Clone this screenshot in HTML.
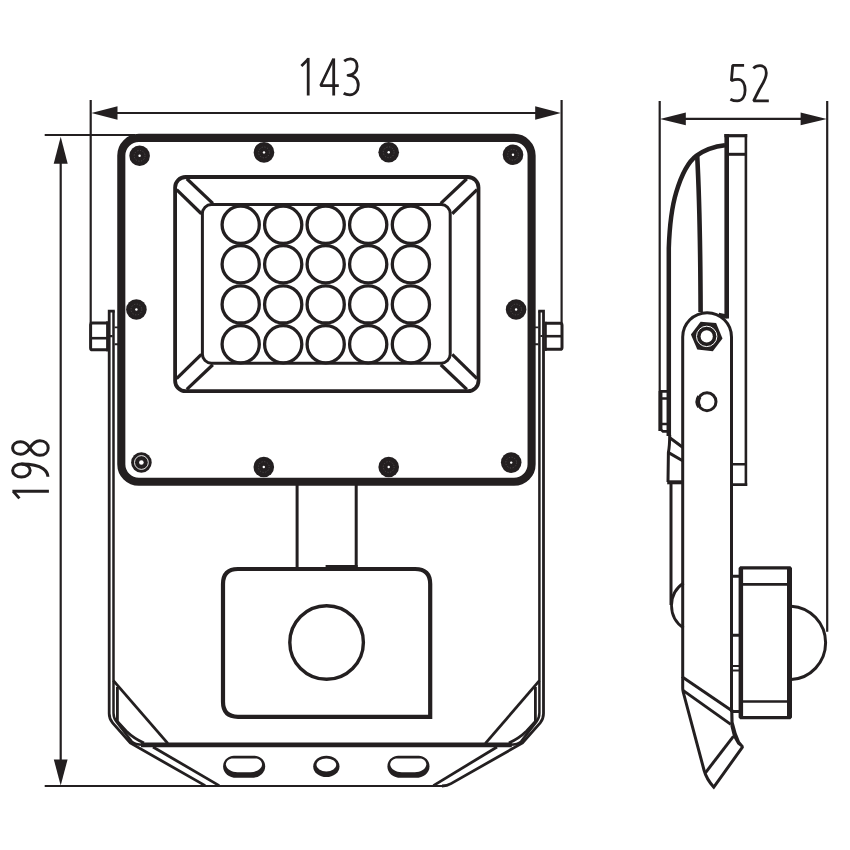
<!DOCTYPE html>
<html>
<head>
<meta charset="utf-8">
<title>Floodlight dimensions</title>
<style>
html,body{margin:0;padding:0;background:#fff;}
body{width:850px;height:850px;overflow:hidden;font-family:"Liberation Sans",sans-serif;}
svg{display:block;}
</style>
</head>
<body>
<svg width="850" height="850" viewBox="0 0 850 850">
<rect width="850" height="850" fill="#ffffff"/>
<g fill="none" stroke="#231f20" stroke-linecap="butt" stroke-linejoin="miter">

<!-- ===== DIMENSION LINES ===== -->
<g stroke-width="2.2">
  <!-- 143 -->
  <path d="M90.7 100V323"/>
  <path d="M561.6 100V323"/>
  <path d="M110 113H542"/>
  <!-- 198 -->
  <path d="M44.7 135H135"/>
  <path d="M44.7 786H443"/>
  <path d="M60.7 155V768"/>
  <!-- 52 -->
  <path d="M659.7 101V431"/>
  <path d="M827.2 101V631.7"/>
  <path d="M680 118.9H806"/>
</g>
<g fill="#231f20" stroke="none">
  <path d="M91.4 113L117.5 106.3V119.7Z"/>
  <path d="M560.9 113L535.2 106.3V119.7Z"/>
  <path d="M60.7 136.8L53.7 163.8H67.7Z"/>
  <path d="M60.7 785.4L53.8 759.4H67.6Z"/>
  <path d="M660 118.9L685.8 112.5V125.3Z"/>
  <path d="M826.8 118.9L800.6 112.5V125.3Z"/>
</g>

<!-- ===== DIGITS ===== -->
<g id="digits" stroke-width="2.8" stroke-miterlimit="3">
  <!-- 143 -->
  <path d="M308.2 57.9V95.5"/>
  <path d="M301.4 66L307.9 59.5" stroke-width="2.7"/>
  <path d="M333.7 95.5V58.4"/>
  <path d="M333.4 59L320.6 85.6H338.8" stroke-width="2.6" stroke-linejoin="bevel"/>
  <path d="M344.2 61.2C346 59.7 348.3 58.9 350.5 58.9C354.8 58.9 357.1 62.2 357.1 66.4C357.1 71.4 353.4 75.2 348 75.3C354.4 75.4 358.3 79.2 358.3 85C358.3 91 354.8 94.8 349.9 94.8C347.5 94.8 345.3 94.2 343.7 93.2" stroke-linejoin="round"/>
  <!-- 52 -->
  <path d="M744.1 65.3H732.7L731.4 80.6C733.4 79.8 735.7 79.3 738 79.3C742.6 79.3 745.1 84 745.1 90.3C745.1 96.8 742 100.9 737.3 100.9C734.6 100.9 732.2 100.2 730.4 99.2" stroke-linejoin="bevel"/>
  <path d="M753.4 68.4C755 66.6 757.4 65.6 760 65.6C764.1 65.6 766.3 68.8 766.3 73C766.3 78 763.6 82.8 759.6 89L753.6 100.9H768.8" stroke-linejoin="bevel"/>
  <!-- 198 (rotated) -->
  <g stroke-width="3">
  <path d="M48.9 491.3H12.4"/>
  <path d="M13.4 491.6L19.4 498.4" stroke-width="2.9"/>
  <ellipse cx="21.4" cy="470.5" rx="8.8" ry="6.5"/>
  <path d="M21.4 464C30 464 38 465 43.2 468.8C46.4 471.2 47.8 474 47.9 476.8"/>
  <path d="M29.8 448C27.6 444.4 24.8 441.8 20.6 441.8C15.6 441.8 12.6 444.6 12.6 448C12.6 451.4 15.6 454.2 20.6 454.2C24.8 454.2 27.6 451.6 29.8 448C32.2 444 35.2 440.7 39.8 440.7C45 440.7 48.2 443.9 48.2 448C48.2 452.1 45 455.3 39.8 455.3C35.2 455.3 32.2 452 29.8 448Z" stroke-linejoin="round"/>
  </g>
</g>

<!-- ===== FRONT VIEW ===== -->
<g id="front">
  <!-- main frame -->
  <rect x="121.3" y="137.9" width="410.3" height="343.9" rx="17.6" ry="17.6" stroke-width="8.1"/>

  <!-- LED window -->
  <rect x="175.1" y="177" width="303.4" height="214.2" rx="10.5" ry="10.5" stroke-width="3.8"/>
  <rect x="202.4" y="204.6" width="247.8" height="158.6" rx="9" ry="9" stroke-width="3"/>
  <g stroke-width="3.3">
    <path d="M186.8 178.8L212.8 203.4"/>
    <path d="M176.6 189.6L201.4 213.8"/>
    <path d="M466.8 178.8L440.8 203.4"/>
    <path d="M477 189.6L452.2 213.8"/>
    <path d="M186.8 389.4L212.8 364.8"/>
    <path d="M176.6 378.6L201.4 354.4"/>
    <path d="M466.8 389.4L440.8 364.8"/>
    <path d="M477 378.6L452.2 354.4"/>
  </g>
  <!-- LEDs -->
  <g stroke-width="3.3" id="leds">
    <circle cx="240.7" cy="224.7" r="18.6"/><circle cx="283.2" cy="224.7" r="18.6"/><circle cx="325.7" cy="224.7" r="18.6"/><circle cx="368.2" cy="224.7" r="18.6"/><circle cx="410.9" cy="224.7" r="18.6"/>
    <circle cx="240.7" cy="264.3" r="18.6"/><circle cx="283.2" cy="264.3" r="18.6"/><circle cx="325.7" cy="264.3" r="18.6"/><circle cx="368.2" cy="264.3" r="18.6"/><circle cx="410.9" cy="264.3" r="18.6"/>
    <circle cx="240.7" cy="304.4" r="18.6"/><circle cx="283.2" cy="304.4" r="18.6"/><circle cx="325.7" cy="304.4" r="18.6"/><circle cx="368.2" cy="304.4" r="18.6"/><circle cx="410.9" cy="304.4" r="18.6"/>
    <circle cx="240.7" cy="344.2" r="18.6"/><circle cx="283.2" cy="344.2" r="18.6"/><circle cx="325.7" cy="344.2" r="18.6"/><circle cx="368.2" cy="344.2" r="18.6"/><circle cx="410.9" cy="344.2" r="18.6"/>
  </g>

  <!-- screws -->
  <g fill="#231f20" stroke="none">
    <circle cx="139.6" cy="155.8" r="10.3"/><circle cx="264" cy="152.4" r="10.3"/><circle cx="388.7" cy="152.3" r="10.3"/><circle cx="513" cy="154.8" r="10.3"/>
    <circle cx="136.4" cy="309.5" r="10.3"/><circle cx="516.1" cy="309.5" r="10.3"/>
    <circle cx="141.4" cy="462.5" r="10.3"/><circle cx="263.8" cy="467" r="10.3"/><circle cx="388.7" cy="467" r="10.3"/><circle cx="511.2" cy="462.6" r="10.3"/>
  </g>
  <g fill="#ffffff" stroke="none">
    <circle cx="139.6" cy="155.8" r="1.2"/><circle cx="264" cy="152.4" r="1.2"/><circle cx="388.7" cy="152.3" r="1.2"/><circle cx="513" cy="154.8" r="1.2"/>
    <circle cx="136.4" cy="309.5" r="1.2"/><circle cx="516.1" cy="309.5" r="1.2"/>
    <circle cx="141.4" cy="462.5" r="2.3"/><circle cx="263.8" cy="467" r="1.2"/><circle cx="388.7" cy="467" r="1.2"/><circle cx="511.2" cy="462.6" r="1.2"/>
  </g>
  <circle cx="141.4" cy="462.5" r="6.9" stroke="#ffffff" stroke-width="0.9"/>
  <g stroke="#5a5657" stroke-width="0.7" stroke-dasharray="1.2 1.6" fill="none">
    <circle cx="139.6" cy="155.8" r="5.4"/><circle cx="264" cy="152.4" r="5.4"/><circle cx="388.7" cy="152.3" r="5.4"/><circle cx="513" cy="154.8" r="5.4"/>
    <circle cx="136.4" cy="309.5" r="5.4"/><circle cx="516.1" cy="309.5" r="5.4"/>
    <circle cx="263.8" cy="467" r="5.4"/><circle cx="388.7" cy="467" r="5.4"/><circle cx="511.2" cy="462.6" r="5.4"/>
  </g>

  <!-- side bolts -->
  <g stroke-width="3">
    <path d="M108 322.9H92.4Q90.6 322.9 90.6 324.8V347.9Q90.6 349.8 92.4 349.8H108"/>
    <path d="M90.6 338.2H108" stroke-width="2.6"/>
    <path d="M107.3 321.4V351.3" stroke-width="2.4"/>
    <path d="M545 323.3H560.2Q562 323.3 562 325.2V347.4Q562 349.3 560.2 349.3H545"/>
    <path d="M545 336.2H562" stroke-width="2.6"/>
    <path d="M545.6 321.8V350.8" stroke-width="2.4"/>
    <path d="M114.6 327.4H118M114.6 344.3H118" stroke-width="1.9"/>
    <path d="M535 327.4H538.4M535 344.3H538.4" stroke-width="1.9"/>
    <path d="M110 336.2H112.6M540.4 336H542.6" stroke-width="2.2"/>
  </g>

  <!-- bracket -->
  <g stroke-width="2.8">
    <!-- left -->
    <path d="M114.8 311.2H109.2V713.5Q109.2 718.8 112.6 722.8L130.3 743L205.2 785.6" stroke-width="2.8"/>
    <path d="M113.5 311.2V713Q113.5 718 116.3 721.6L131.8 741.6Q134.5 744.4 143 744.8" stroke-width="2.5"/>
    <path d="M113.4 680.6L167.8 743.4"/>
    <path d="M117.4 687V721.5L126.1 731Q134 738.6 144 743"/>
    <path d="M153 747L219.2 785.6"/>
    <!-- right -->
    <path d="M538.2 311.2H543.5V713.5Q543.5 718.8 540.2 722.8L522.5 743L451 783.6Q447.2 785.9 442 786" stroke-width="2.8"/>
    <path d="M539.4 311.2V713Q539.4 718 536.5 721.6L521 741.6Q518.3 744.4 509.8 744.8" stroke-width="2.5"/>
    <path d="M539.4 680.6L485.4 743.4"/>
    <path d="M535.4 687V721.5L526.7 731Q518.8 738.6 508.8 743"/>
    <path d="M497 747L433.4 785.6"/>
  </g>
  <path d="M141 744.8H511.8" stroke-width="4.8"/>

  <!-- neck -->
  <path d="M297.1 485V568M356.2 485V568" stroke-width="3"/>
  <!-- sensor -->
  <path d="M238 569H415Q430.2 569 430.2 584V716.8H238Q223 716.8 223 701.8V584Q223 569 238 569Z" stroke-width="4.2"/>
  <path d="M325.6 566.2H357.6" stroke-width="2.6"/>
  <circle cx="326.6" cy="642.5" r="36.8" stroke-width="3.4"/>

  <!-- slots -->
  <g stroke="none">
    <g id="slotL">
      <path fill="#231f20" d="M233.8 755.7H254.5C260.5 755.7 265.2 760.6 265.2 766.4C265.2 773 259 777.8 251.5 777.8H236.5C229 777.8 223.1 773 223.1 766.4C223.1 760.6 227.8 755.7 233.8 755.7Z"/>
      <path fill="#ffffff" d="M233 758.4H255.5C259.5 758.4 262 761.5 262 764.5C262 769 256 772.2 250.5 772.2H237.4C232 772.2 225.9 769 225.9 764.5C225.9 761.5 228.5 758.4 233 758.4Z"/>
    </g>
    <g transform="translate(164.3 0)">
      <path fill="#231f20" d="M233.8 755.7H254.5C260.5 755.7 265.2 760.6 265.2 766.4C265.2 773 259 777.8 251.5 777.8H236.5C229 777.8 223.1 773 223.1 766.4C223.1 760.6 227.8 755.7 233.8 755.7Z"/>
      <path fill="#ffffff" d="M233 758.4H255.5C259.5 758.4 262 761.5 262 764.5C262 769 256 772.2 250.5 772.2H237.4C232 772.2 225.9 769 225.9 764.5C225.9 761.5 228.5 758.4 233 758.4Z"/>
    </g>
    <ellipse cx="326.35" cy="766.4" rx="13.15" ry="10.7" fill="#231f20"/>
    <ellipse cx="326.35" cy="764.9" rx="9.9" ry="6.5" fill="#ffffff"/>
  </g>
</g>

<!-- ===== SIDE VIEW ===== -->
<g id="side">
  <!-- top small rect & front plate -->
  <path d="M724.4 135.7H747.2" stroke-width="3.2"/>
  <path d="M726.7 134.1V318.4" stroke-width="4.6"/>
  <path d="M728 154.3H746" stroke-width="3"/>
  <path d="M745.9 134.1V485.8" stroke-width="2.6"/>
  <path d="M732.4 464.3H746M732.4 484.6H747.2" stroke-width="2.6"/>
  <path d="M727.6 316.6L718.6 314.6" stroke-width="4"/>

  <!-- back curve -->
  <path d="M725 145.2C714 146.4 704.4 150 696.6 155.6C688 161.8 681.4 175 676.2 192.4C672.4 205 669.6 224 668.8 248V436" stroke-width="4.5"/>
  <path d="M697.2 155.6C699 190 700.4 250 700.6 312" stroke-width="4.6"/>

  <!-- bracket arm -->
  <path d="M682.7 678V337A24.4 24.4 0 0 1 731.5 337V712" stroke-width="3"/>
  <!-- nut -->
  <path d="M690.9 334.4L700.6 321.8L716.1 323.1L722.5 338.6L712.8 351.3L697.3 349.4Z" fill="#231f20" stroke="none"/>
  <circle cx="706.7" cy="336.4" r="10.2" stroke="#ffffff" stroke-width="1"/>
  <circle cx="706.7" cy="336.4" r="6.1" fill="#ffffff" stroke="none"/>
  <!-- hole -->
  <circle cx="707" cy="401.7" r="9" stroke-width="3"/>
  <path d="M699.4 396.6A9.2 9.2 0 0 0 699.4 406.8" stroke-width="4.6"/>

  <!-- bump on back -->
  <path d="M667 391.4H661V429.6L663 431.4H667" stroke-width="2.6"/>
  <path d="M661.6 398.5H667M661.6 424H667" stroke-width="2.4"/>
  <path d="M660.4 391V431" stroke-width="3.6"/>

  <!-- lower back -->
  <path d="M669.7 435Q669.7 446 668.4 452.5L668 482" stroke-width="3"/>
  <path d="M669.8 437.8L682.6 447.2M668.6 452.6L682.6 460.8" stroke-width="3"/>
  <path d="M667.2 482.3H683.4" stroke-width="4"/>
  <path d="M671 484V605" stroke-width="3"/>
  <path d="M683.6 583A27 27 0 0 0 683.6 628" stroke-width="2.8"/>

  <!-- sensor side -->
  <path d="M740.2 566.3H790.4L792 567.9V717.6L790.4 719.2H740.2L738.6 717.6V567.9Z M743.1 569.6V716H787V569.6Z" fill="#231f20" fill-rule="evenodd" stroke="none"/>
  <path d="M742 584.3H788M742 701.5H788" stroke-width="2.7"/>
  <path d="M732 576.2H739.5M732 635.3H739.5M732 711.5H739.5" stroke-width="2.9"/>
  <path d="M732 666H739.5M732 670.5H739.5" stroke-width="1.9"/>
  <path d="M791.2 606.2A36.3 36.7 0 0 1 791.2 679.5" stroke-width="3"/>

  <!-- bottom wedge -->
  <g stroke-width="3">
    <path d="M682.7 677.3L731.6 710.4"/>
    <path d="M682.7 677V688Q682.7 690 683.2 692L704 770Q706.4 779 713.8 787.2L742.8 746.6"/>
    <path d="M683 690.4L730.8 724.4"/>
    <path d="M733.4 736.4L705.4 772.8"/>
  </g>
  <path d="M730.2 709.5H733.3L733.6 722L736.6 733L740 741.4L744 746.2L742.2 748L737.4 744.2L733 736.4L730.5 726.5Z" fill="#231f20" stroke="none"/>
</g>
</g>
</svg>
</body>
</html>
